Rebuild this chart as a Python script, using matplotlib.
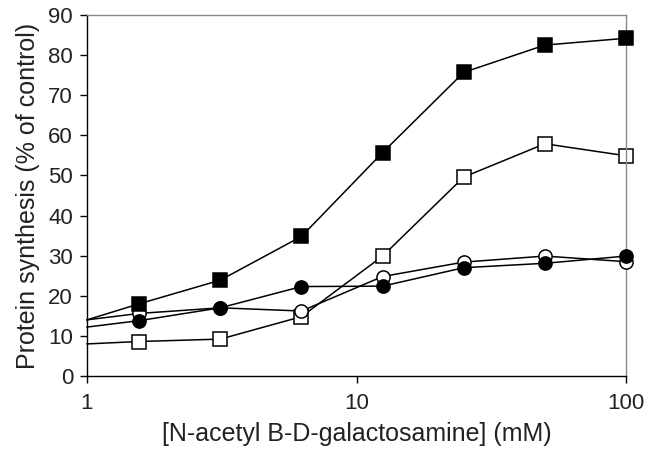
import matplotlib
matplotlib.use("Agg")
import matplotlib.pyplot as plt
from matplotlib.ticker import FixedLocator, FixedFormatter, NullLocator

plt.rcParams['font.family'] = ['Liberation Sans', 'DejaVu Sans']

conc = [1, 1.5625, 3.125, 6.25, 12.5, 25, 50, 100]
filled_squares = [14.0, 18.0, 23.9, 34.8, 55.7, 75.7, 82.5, 84.2]
open_squares = [8.0, 8.6, 9.2, 14.8, 29.9, 49.6, 57.9, 54.9]
filled_circles = [12.2, 13.8, 17.0, 22.3, 22.4, 27.0, 28.1, 29.9]
open_circles = [14.0, 15.6, 17.0, 16.2, 24.8, 28.4, 29.9, 28.5]

x_ticks = [1, 10, 100]
x_tick_labels = ["1", "10", "100"]
y_ticks = list(range(0, 91, 10))

fig = plt.figure(figsize=(6.46, 4.5), dpi=100)
ax = fig.add_axes([87/646, 1-376/450, (626-87)/646, (376-15)/450])

def series(y, marker, face, z):
    # first point (x=1) has no marker
    ax.plot(conc, y, color='black', lw=1.1, zorder=z, clip_on=False)
    ax.plot(conc[1:], y[1:], linestyle='none', marker=marker, markersize=9.5,
            markerfacecolor=face, markeredgecolor='black', markeredgewidth=1.1,
            zorder=z + 0.5, clip_on=False)

series(open_squares, 's', 'white', 2)
series(open_circles, 'o', 'white', 3)
series(filled_circles, 'o', 'black', 4)
series(filled_squares, 's', 'black', 5)

ax.set_xscale('log')
ax.set_xlim(1, 100)
ax.set_ylim(0, 90)
ax.xaxis.set_major_locator(FixedLocator(x_ticks))
ax.xaxis.set_major_formatter(FixedFormatter(x_tick_labels))
ax.xaxis.set_minor_locator(NullLocator())
ax.set_yticks(y_ticks)

for s in ['left', 'bottom']:
    ax.spines[s].set_color('black')
    ax.spines[s].set_linewidth(1.0)
for s in ['top', 'right']:
    ax.spines[s].set_color('#8a8a8a')
    ax.spines[s].set_linewidth(1.0)

ax.tick_params(axis='both', direction='out', length=5, width=1.0,
               labelsize=16, colors='black', labelcolor='#222222')
ax.tick_params(axis='x', pad=7)
ax.tick_params(axis='y', pad=5)

ax.set_xlabel('[N-acetyl B-D-galactosamine] (mM)', fontsize=18, color='#222222', labelpad=6)
ax.set_ylabel('Protein synthesis (% of control)', fontsize=18, color='#222222', labelpad=6)

fig.savefig('out.png', dpi=100)
